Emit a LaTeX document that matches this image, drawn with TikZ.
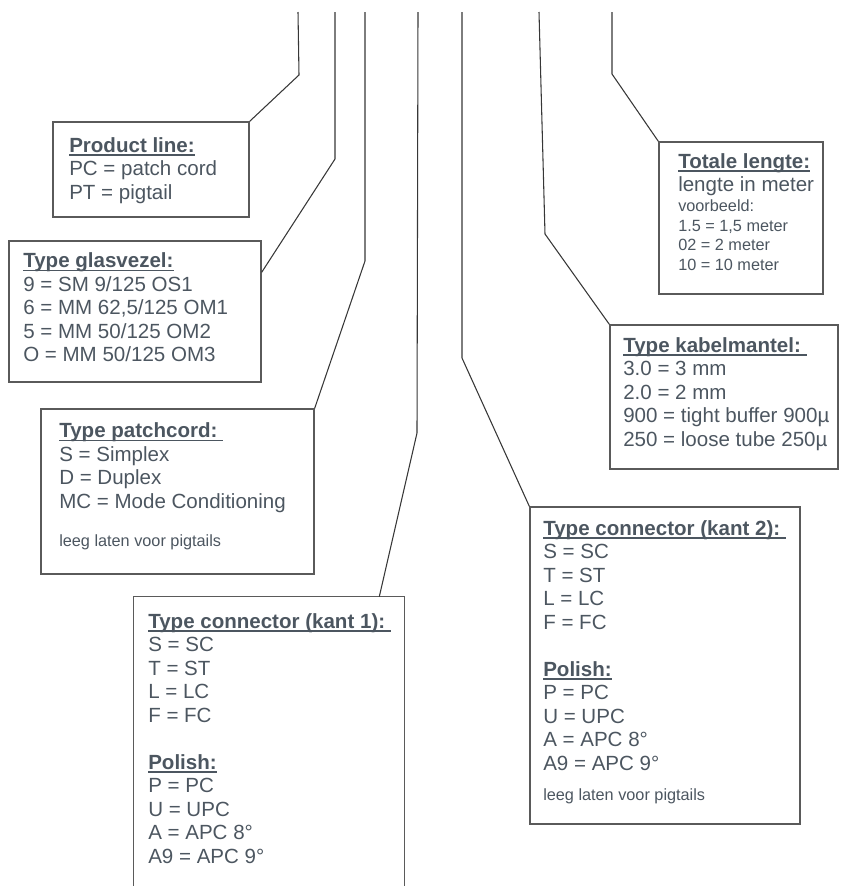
\documentclass[tikz,border=0pt]{standalone}
\usepackage{fontspec}
\setmainfont{Liberation Sans}
\usetikzlibrary{fit}
\definecolor{txtgray}{RGB}{76,86,96}
\definecolor{boxgray}{RGB}{90,90,90}
\definecolor{wiregray}{RGB}{55,55,55}
\newcommand{\mainsize}{\fontsize{15.4pt}{17.6pt}\selectfont}
\newcommand{\smallsize}{\fontsize{12.2pt}{14.6pt}\selectfont}
\newcommand{\hdr}[1]{\setbox0\hbox{\bfseries #1}\rlap{\rule[-2.6pt]{\wd0}{1pt}}\box0}
\tikzset{
  box/.style={draw=boxgray, line width=1pt, inner sep=0pt},
  wire/.style={draw=wiregray, line width=0.8pt},
  txt/.style={anchor=base west, align=left, inner sep=0pt, text=txtgray, font=\mainsize},
  note/.style={txt, font=\smallsize}
}
\begin{document}
\begin{tikzpicture}[x=0.75pt, y=-0.75pt]
  \useasboundingbox (0,0) rectangle (840,886);
  % Boxes
  \node[box, fit={(53,122) (249,217)}] (pl) {};
  \node[box, fit={(9,241) (261,382)}] (gv) {};
  \node[box, fit={(41,409) (314,574)}] (pc) {};
  \node[inner sep=0pt, fit={(134,597) (404,886)}] (k1) {};
  \draw[box] (k1.south west) |- (k1.north east) -- (k1.south east);
  \node[box, fit={(530,507) (800,824)}] (k2) {};
  \node[box, fit={(610,325) (838,469)}] (km) {};
  \node[box, fit={(659,142) (823,294)}] (tl) {};
  % Texts (placed by the baseline of their last line)
  \node[txt] (pltxt) at (69,199) {\hdr{Product line:}\\PC = patch cord\\PT = pigtail};
  \node[txt] (gvtxt) at (23,361.7) {\hdr{Type glasvezel:}\\9 = SM 9/125 OS1\\6 = MM 62,5/125 OM1\\5 = MM 50/125 OM2\\O = MM 50/125 OM3};
  \node[txt] (pctxt) at (59,508) {\hdr{Type patchcord:\ }\\S = Simplex\\D = Duplex\\MC = Mode Conditioning};
  \node[note] (pcnote) at (59,546.7) {leeg laten voor pigtails};
  \node[txt] (k1txt) at (148,863) {\hdr{Type connector (kant 1):\ }\\S = SC\\T = ST\\L = LC\\F = FC\\[17.6pt]\hdr{Polish:}\\P = PC\\U = UPC\\A = APC 8°\\A9 = APC 9°};
  \node[txt] (k2txt) at (543,770) {\hdr{Type connector (kant 2):\ }\\S = SC\\T = ST\\L = LC\\F = FC\\[17.6pt]\hdr{Polish:}\\P = PC\\U = UPC\\A = APC 8°\\A9 = APC 9°};
  \node[note] (k2note) at (543,800) {leeg laten voor pigtails};
  \node[txt] (kmtxt) at (623,446) {\hdr{Type kabelmantel:\ }\\3.0 = 3 mm\\2.0 = 2 mm\\900 = tight buffer 900µ\\250 = loose tube 250µ};
  \node[txt] (tltxt) at (678,191.7) {\hdr{Totale lengte:}\\lengte in meter};
  \node[note] (tlnote) at (678,270) {voorbeeld:\\1.5 = 1,5 meter\\02 = 2 meter\\10 = 10 meter};
  % Wires
  \coordinate (top1) at (298,12);  \coordinate (bend1) at (299,75);
  \coordinate (top2) at (335,12);  \coordinate (bend2) at (335,159);
  \coordinate (top3) at (365,12);  \coordinate (bend3) at (365,261);
  \coordinate (top4) at (418,12);  \coordinate (bend4) at (417,433);
  \coordinate (top5) at (462,12);  \coordinate (bend5) at (462,358);
  \coordinate (top6) at (539,12);  \coordinate (bend6) at (545,234);
  \coordinate (top7) at (612,12);  \coordinate (bend7) at (612,74);
  \draw[wire] (top1) -- (bend1) -- (pl.north east);
  \draw[wire] (top2) -- (bend2) -- ([shift={(0,32)}]gv.north east);
  \draw[wire] (top3) -- (bend3) -- (pc.north east);
  \draw[wire] (top4) -- (bend4) -- ([shift={(-25,0)}]k1.north east);
  \draw[wire] (top5) -- (bend5) -- (k2.north west);
  \draw[wire] (top6) -- (bend6) -- (km.north west);
  \draw[wire] (top7) -- (bend7) -- (tl.north west);
\end{tikzpicture}
\end{document}
